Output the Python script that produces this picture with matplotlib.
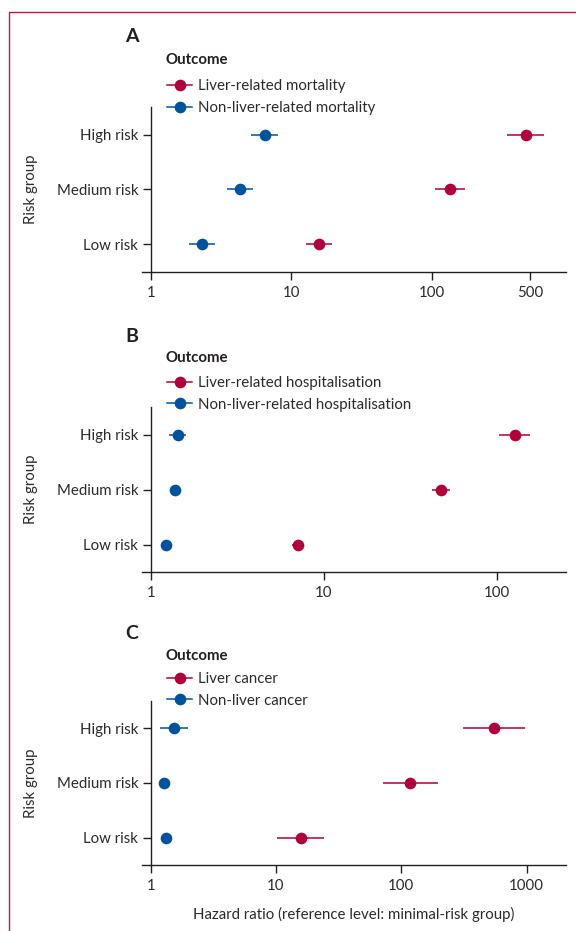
import matplotlib
matplotlib.use("Agg")
import matplotlib.pyplot as plt
from matplotlib.lines import Line2D
import numpy as np

plt.rcParams['font.family'] = ['Lato', 'DejaVu Sans']

groups = ["Low risk", "Medium risk", "High risk"]

# Panel A: mortality
a_liver_hr = [15.7, 135, 470]
a_liver_lo = [12.8, 106, 346]
a_liver_hi = [19.4, 172, 627]
a_non_hr = [2.32, 4.32, 6.46]
a_non_lo = [1.88, 3.50, 5.2]
a_non_hi = [2.89, 5.37, 8.03]
a_labels = ["Liver-related mortality", "Non-liver-related mortality"]
a_ticks = [1, 10, 100, 500]

# Panel B: hospitalisation
b_liver_hr = [7.05, 47.1, 126]
b_liver_lo = [6.55, 42.2, 102]
b_liver_hi = [7.63, 53.2, 154]
b_non_hr = [1.23, 1.39, 1.43]
b_non_lo = [1.20, 1.33, 1.28]
b_non_hi = [1.26, 1.45, 1.60]
b_labels = ["Liver-related hospitalisation", "Non-liver-related hospitalisation"]
b_ticks = [1, 10, 100]

# Panel C: cancer
c_liver_hr = [15.8, 117, 548]
c_liver_lo = [10.2, 71.1, 308]
c_liver_hi = [24.1, 196, 973]
c_non_hr = [1.32, 1.28, 1.54]
c_non_lo = [1.27, 1.23, 1.18]
c_non_hi = [1.37, 1.33, 1.98]
c_labels = ["Liver cancer", "Non-liver cancer"]
c_ticks = [1, 10, 100, 1000]

RED = "#B0003A"
BLUE = "#00529B"
FRAME = "#C41740"
TXT = "#231F20"
LBL = "#2B2B2B"
FS = 10.8

W, H = 576, 931
fig = plt.figure(figsize=(W / 100, H / 100), dpi=100)

# border (top and left)
fig.add_artist(Line2D([9.3 / W, 9.3 / W, 1.0], [0.0, 1 - 12.3 / H, 1 - 12.3 / H],
                      transform=fig.transFigure, color=FRAME, lw=1.0))

panels = [
    dict(letter="A", liver=(a_liver_hr, a_liver_lo, a_liver_hi), non=(a_non_hr, a_non_lo, a_non_hi),
         labels=a_labels, ticks=a_ticks, xlim=(0.867, 903), top=107.3, bottom=271.7,
         letter_y=36.7, outcome_y=60.0, leg_y=(86.7, 107.3)),
    dict(letter="B", liver=(b_liver_hr, b_liver_lo, b_liver_hi), non=(b_non_hr, b_non_lo, b_non_hi),
         labels=b_labels, ticks=b_ticks, xlim=(0.891, 249), top=407.3, bottom=572.0,
         letter_y=336.7, outcome_y=357.7, leg_y=(383.0, 404.3)),
    dict(letter="C", liver=(c_liver_hr, c_liver_lo, c_liver_hi), non=(c_non_hr, c_non_lo, c_non_hi),
         labels=c_labels, ticks=c_ticks, xlim=(0.852, 2063), top=700.7, bottom=865.0,
         letter_y=633.3, outcome_y=655.7, leg_y=(679.3, 700.0)),
]

L, R = 142.0, 566.0
ypos = np.arange(len(groups))
MS = 8.4

for p in panels:
    ax = fig.add_axes([L / W, 1 - p["bottom"] / H, (R - L) / W, (p["bottom"] - p["top"]) / H])
    ax.set_xscale("log")
    ax.set_xlim(*p["xlim"])
    ax.set_ylim(-0.5, 2.5)
    for (hr, lo, hi), col in ((p["non"], BLUE), (p["liver"], RED)):
        hr = np.array(hr); lo = np.array(lo); hi = np.array(hi)
        ax.errorbar(hr, ypos, xerr=[hr - lo, hi - hr], fmt="o", color=col, ecolor=col,
                    elinewidth=1.1, capsize=0, markersize=MS, markeredgewidth=0, zorder=3)
    ax.spines["top"].set_visible(False)
    ax.spines["right"].set_visible(False)
    ax.spines["left"].set_position(("data", 1))
    for s in ("left", "bottom"):
        ax.spines[s].set_linewidth(1.0)
        ax.spines[s].set_color(TXT)
    ax.set_yticks(ypos)
    ax.set_yticklabels(groups)
    ax.set_xticks(p["ticks"])
    ax.set_xticklabels([str(t) for t in p["ticks"]])
    ax.xaxis.set_minor_locator(matplotlib.ticker.NullLocator())
    ax.tick_params(axis="both", length=6, width=1.0, color=TXT, labelsize=FS,
                   labelcolor=LBL)
    ax.tick_params(axis="y", pad=3)
    ax.tick_params(axis="x", pad=4)
    ax.patch.set_alpha(0)

    fig.text(31.3 / W, 1 - (p["top"] + p["bottom"]) / 2 / H, "Risk group", rotation=90,
             ha="center", va="center", fontsize=FS, color=LBL)
    fig.text(131.6 / W, 1 - p["letter_y"] / H, p["letter"], ha="center", va="center",
             fontsize=14, fontweight="bold", color=TXT)
    fig.text(166 / W, 1 - p["outcome_y"] / H, "Outcome", ha="left", va="center",
             fontsize=FS, fontweight="bold", color=TXT)

    handles = [Line2D([], [], color=RED, marker="o", markersize=MS, markeredgewidth=0, lw=1.1),
               Line2D([], [], color=BLUE, marker="o", markersize=MS, markeredgewidth=0, lw=1.1)]
    ymid = (p["leg_y"][0] + p["leg_y"][1]) / 2
    leg = ax.legend(handles, p["labels"], loc="center left",
                    bbox_to_anchor=(167 / W, 1 - ymid / H),
                    bbox_transform=fig.transFigure, frameon=False, fontsize=FS,
                    handlelength=1.67, handletextpad=0.43,
                    labelspacing=0.52, borderpad=0, borderaxespad=0)
    for t in leg.get_texts():
        t.set_color(LBL)

fig.text((L + R) / 2 / W, 1 - 914 / H, "Hazard ratio (reference level: minimal-risk group)",
         ha="center", va="center", fontsize=FS, color=LBL)

fig.savefig("out.png", dpi=100)
